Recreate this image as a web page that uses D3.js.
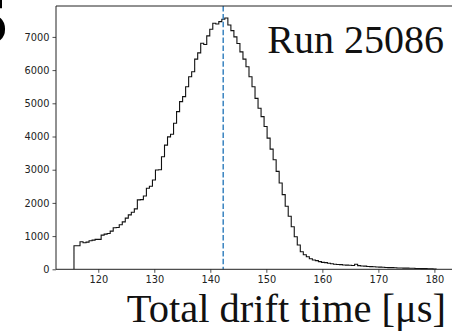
<!DOCTYPE html>
<html>
<head>
<meta charset="utf-8">
<script src="https://cdn.jsdelivr.net/npm/d3@7"></script>
<style>
  body { margin: 0; background: #fff; }
  svg { display: block; }
</style>
</head>
<body>
<svg id="chart" width="452" height="332"></svg>
<script>
// histogram of total drift time, 120 bins
var binLo = 115.66;
var binHi = 180.3;
var counts = [
  711, 711, 830, 800, 820, 860, 880, 900, 900, 1030,
  1060, 1080, 1150, 1250, 1260, 1340, 1430, 1540, 1640, 1720,
  1820, 2090, 2100, 2210, 2440, 2500, 2690, 2990, 3000, 3390,
  3740, 3990, 4070, 4400, 4750, 5050, 5200, 5500, 5800, 5950,
  6330, 6520, 6810, 6770, 7030, 7230, 7410, 7390, 7460, 7530,
  7570, 7360, 7190, 7000, 6800, 6550, 6330, 6100, 5800, 5500,
  5150, 4850, 4600, 4300, 3950, 3620, 3300, 2950, 2600, 2250,
  1900, 1600, 1280, 980, 730, 530, 440, 380, 320, 280,
  260, 230, 210, 200, 180, 165, 150, 145, 140, 130,
  125, 120, 115, 150, 110, 100, 95, 85, 80, 75,
  70, 65, 60, 55, 50, 50, 45, 40, 40, 35,
  35, 30, 30, 25, 25, 20, 20, 15, 15, 10
];
var meanTime = 142.3;
var xTicks = [120, 130, 140, 150, 160, 170, 180];
var yTicks = [0, 1000, 2000, 3000, 4000, 5000, 6000, 7000];
var runLabel = "Run 25086";
var xLabel = "Total drift time [μs]";

var svg = d3.select("#chart");
// plot box (names avoid window.top)
var pLeft = 56, pTop = 6, pBottom = 269.3, pRight = 454;

var x = d3.scaleLinear().domain([112.45, 183.5]).range([pLeft, pRight]);
var y = d3.scaleLinear().domain([0, 7931]).range([pBottom, pTop]);

var edges = d3.range(counts.length + 1).map(function(i) {
  return binLo + (binHi - binLo) * i / counts.length;
});

// step outline like histtype='step'
var pts = [[edges[0], 0]];
counts.forEach(function(c, i) {
  pts.push([edges[i], c]);
  pts.push([edges[i + 1], c]);
});
pts.push([edges[counts.length], 0]);

var line = d3.line().x(function(d) { return x(d[0]); }).y(function(d) { return y(d[1]); });

svg.append("path")
  .attr("d", line(pts))
  .attr("fill", "none")
  .attr("stroke", "#111")
  .attr("stroke-width", 1.1)
  .attr("stroke-linejoin", "miter");

// mean line
svg.append("line")
  .attr("x1", x(meanTime)).attr("x2", x(meanTime))
  .attr("y1", pTop).attr("y2", pBottom)
  .attr("stroke", "#3a84c0")
  .attr("stroke-width", 1.5)
  .attr("stroke-dasharray", "5.5,2.4");

// axes
var xAxis = d3.axisBottom(x).tickValues(xTicks).tickSize(3.5).tickPadding(3).tickFormat(d3.format("d"));
var yAxis = d3.axisLeft(y).tickValues(yTicks).tickSize(3.5).tickPadding(3).tickFormat(d3.format("d"));

var gx = svg.append("g").attr("transform", "translate(0," + pBottom + ")").call(xAxis);
var gy = svg.append("g").attr("transform", "translate(" + pLeft + ",0)").call(yAxis);

[gx, gy].forEach(function(g) {
  g.select(".domain").remove();
  g.selectAll(".tick line").attr("stroke", "#222").attr("stroke-width", 0.8);
  g.selectAll(".tick text")
    .attr("font-family", "DejaVu Sans")
    .attr("font-size", 9.8)
    .attr("fill", "#222");
});

// spines: left, top, bottom
svg.append("path")
  .attr("d", "M" + pRight + "," + pTop + "H" + pLeft + "V" + pBottom + "H" + pRight)
  .attr("fill", "none")
  .attr("stroke", "#222")
  .attr("stroke-width", 1);

svg.append("text")
  .attr("x", 444).attr("y", 53)
  .attr("text-anchor", "end")
  .attr("font-family", "Liberation Serif")
  .attr("font-size", 40)
  .attr("fill", "#111")
  .text(runLabel);

svg.append("text")
  .attr("x", 446).attr("y", 322)
  .attr("text-anchor", "end")
  .attr("font-family", "Liberation Serif")
  .attr("font-size", 40.5)
  .attr("fill", "#111")
  .text(xLabel);

// clipped panel letter at the top-left edge
svg.append("text")
  .attr("x", 9).attr("y", 43)
  .attr("text-anchor", "end")
  .attr("font-family", "DejaVu Sans")
  .attr("font-weight", "bold")
  .attr("font-size", 58)
  .attr("fill", "#000")
  .text("5");
</script>
</body>
</html>
